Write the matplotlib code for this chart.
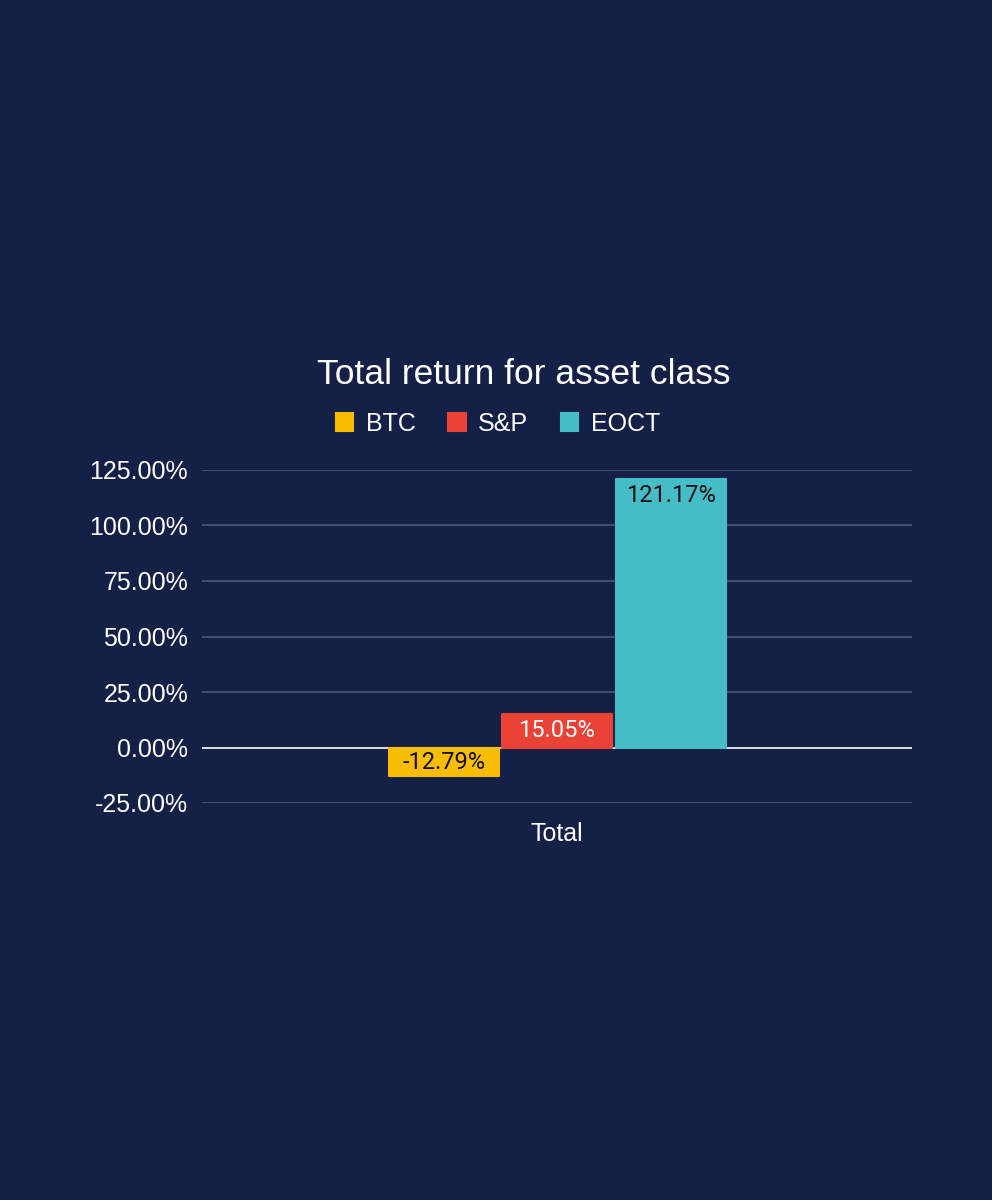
import matplotlib.pyplot as plt
from matplotlib.ticker import FuncFormatter

# data
categories = ['Total']
series = ['BTC', 'S&P', 'EOCT']
values = [-12.79, 15.05, 121.17]
colors = ['#fbbc04', '#ea4335', '#46bdc6']
label_colors = ['#111111', '#ffffff', '#111111']
yticks = [-25, 0, 25, 50, 75, 100, 125]

bg = '#152047'

fig = plt.figure(figsize=(9.92, 12), dpi=100, facecolor=bg)
ax = fig.add_axes([202/992, 1 - 803/1200, 710/992, 333/1200], facecolor=bg)

width = 0.155
offsets = [-0.1585, 0.0, 0.16]
for name, val, col, lc, off in zip(series, values, colors, label_colors, offsets):
    ax.bar(off, val, width=width, color=col, edgecolor=col, linewidth=1.5,
           joinstyle='round', label=name, zorder=3)
    # label inside the end of the bar
    if val >= 0:
        y, va = val - 2.4, 'top'
    else:
        y, va = val + 1.0, 'bottom'
    ax.text(off, y, f'{val:.2f}%', ha='center', va=va, color=lc,
            fontsize=17, family='Roboto', zorder=4)

ax.set_xlim(-0.5, 0.5)
ax.set_ylim(-25, 125)
ax.set_yticks(yticks)
ax.yaxis.set_major_formatter(FuncFormatter(lambda v, p: f'{v:.2f}%'))
ax.set_xticks([0])
ax.set_xticklabels(categories)

ax.grid(axis='y', color='#4b5778', linewidth=1.2, zorder=0)
ax.axhline(0, color='#e6e8ee', linewidth=1.3, zorder=2)
for s in ax.spines.values():
    s.set_visible(False)
ax.tick_params(axis='both', length=0, colors='white', labelsize=18, pad=10)
ax.tick_params(axis='x', pad=14)
for t in ax.get_xticklabels() + ax.get_yticklabels():
    t.set_family('Liberation Sans')

fig.text(524/992, 1 - 374/1200, 'Total return for asset class', ha='center', va='center',
         color='white', fontsize=25.5, family='Liberation Sans')
leg = fig.legend(loc='center', bbox_to_anchor=(498/992, 1 - 424/1200), ncol=3, frameon=False,
                 handlelength=0.7, handleheight=0.7, handletextpad=0.5,
                 columnspacing=1.3, prop={'family': 'Liberation Sans', 'size': 18})
for t in leg.get_texts():
    t.set_color('white')

fig.savefig('out.png', dpi=100, facecolor=bg)
